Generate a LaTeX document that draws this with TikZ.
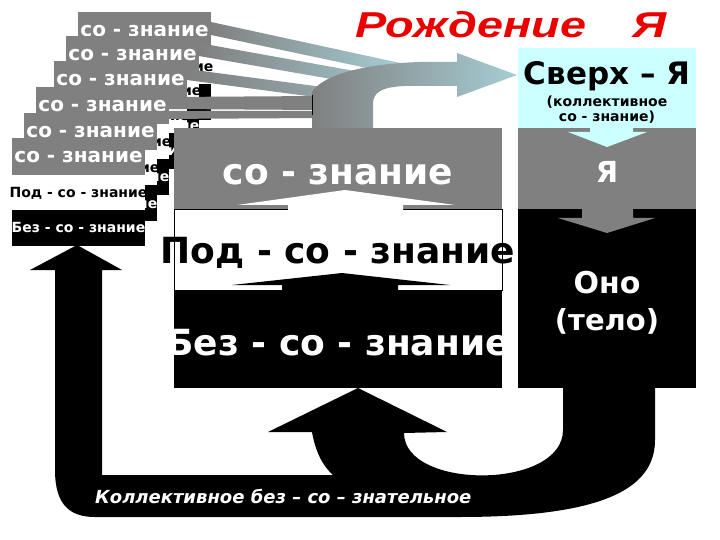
\documentclass[tikz,border=0pt]{standalone}
\usepackage{fontspec}
\setmainfont{DejaVu Sans}
\newfontfamily\titlefont{Liberation Sans}[FakeStretch=1.3]
\definecolor{mygray}{RGB}{128,128,128}
\definecolor{skycyan}{RGB}{204,255,255}
\definecolor{bandend}{RGB}{165,205,212}
\definecolor{titlered}{RGB}{235,0,0}
\newcommand{\fsz}[1]{\fontsize{#1}{#1}\selectfont}
\begin{document}
\begin{tikzpicture}[x=1pt,y=-1pt,
  lbl/.style={inner sep=0pt, anchor=base, font=\bfseries\fsz{#1}}]
\useasboundingbox (0,0) rectangle (720,540);
\fill[white] (0,0) rectangle (720,540);
% stacked small cards
\foreach \cx/\cy [count=\i] in {78/12,66/36,54/61,36/87,24/113,12/138}{
  \fill[mygray] (\cx,\cy) rectangle ++(133,37);
  \fill[white] (\cx,\cy+37) rectangle ++(133,35);
  \fill[black] (\cx,\cy+72) rectangle ++(133,36);
  \node[lbl=20, white] (ca\i) at (\cx+66.5,\cy+25) {со - знание};
  \node[lbl=14, black] (cb\i) at (\cx+66.5,\cy+60) {Под - со - знание};
  \node[lbl=14, white] (cc\i) at (\cx+66.5,\cy+95) {Без - со - знание};
}
% bands
\shade[left color=mygray, right color=bandend] (211,22) -- (400,63) -- (400,75) -- (211,35) -- cycle;
\shade[left color=mygray, right color=bandend!75!mygray] (199,43) -- (360,72) -- (360,84) -- (199,56) -- cycle;
\shade[left color=mygray, right color=bandend!50!mygray] (187,69) -- (330,88) -- (330,99) -- (187,80) -- cycle;
\fill[mygray] (169,97) -- (320,96) -- (320,110) -- (169,109) -- cycle;
\fill[mygray] (157,111) -- (320,111) -- (320,118) -- (157,119) -- cycle;
% curved arrow to Sverkh-Ya
\shade[left color=mygray, right color=bandend] (312,128) -- (312,92) .. controls (322,76) and (360,64) .. (420,62) -- (457,62) -- (457,53) -- (517,75) -- (457,97) -- (457,86) -- (405,86) .. controls (382,87) and (373,92) .. (373,104) -- (373,128) -- cycle;
\draw[line width=0.6pt] (312,95) -- (312,115);
% main stack
\fill[mygray] (174,128) rectangle (502,209);
\draw[fill=white, line width=0.8pt] (174,209) rectangle (502,290);
\fill[black] (174,290) rectangle (502,388);
\fill[white] (288,211) -- (288,205) -- (237,205) -- (345,190) -- (455,205) -- (403,205) -- (403,211) -- cycle;
\fill[black] (282,291) -- (282,285) -- (232,285) -- (342,273) -- (450,285) -- (398,285) -- (398,291) -- cycle;
% right column
\fill[skycyan] (518,48) rectangle (696,128);
\fill[mygray] (518,128) rectangle (696,209);
\fill[black] (518,209) rectangle (696,388);
\fill[skycyan] (590,127) -- (590,132) -- (568,132) -- (607,147) -- (647,132) -- (633,132) -- (633,127) -- cycle;
\fill[mygray] (582,207) -- (582,218) -- (558,218) -- (607,233) -- (655,218) -- (633,218) -- (633,207) -- cycle;
% big black loop arrow
\fill[black] (563,386) -- (563,430) .. controls (563,490) and (404,490) .. (404,433)
  -- (447,432) -- (358,388) -- (268,432) -- (312,432)
  .. controls (316,455) and (325,468) .. (333,475) -- (102,475) -- (102,270) -- (122,270)
  -- (77,245) -- (30,270) -- (55,270) -- (55,470) .. controls (55,505) and (70,517) .. (95,517)
  -- (459,517) .. controls (600,517) and (655,490) .. (655,440) -- (655,386) -- cycle;
% texts
\node[inner sep=0pt, anchor=base west, text=titlered, font=\titlefont\bfseries\itshape\fsz{36}] (title) at (355,38) {Рождение\hspace{46pt}Я};
\node[lbl=36, white] (m1) at (338,185) {со - знание};
\node[lbl=36, black] (m2) at (338,263) {Под - со - знание};
\node[lbl=36, white] (m3) at (338,355) {Без - со - знание};
\node[lbl=31, black] (s1) at (607,85) {Сверх – Я};
\node[lbl=14, black] (s2) at (607,107) {(коллективное};
\node[lbl=14, black] (s3) at (607,122) {со - знание)};
\node[lbl=29, white] (ya) at (607,183) {Я};
\node[lbl=30, white] (ono) at (607,293) {Оно};
\node[lbl=29, white] (telo) at (607,330) {(тело)};
\node[inner sep=0pt, anchor=base west, white, font=\bfseries\itshape\fsz{18}] (bottom) at (95,503) {Коллективное без – со – знательное};
\end{tikzpicture}
\end{document}
